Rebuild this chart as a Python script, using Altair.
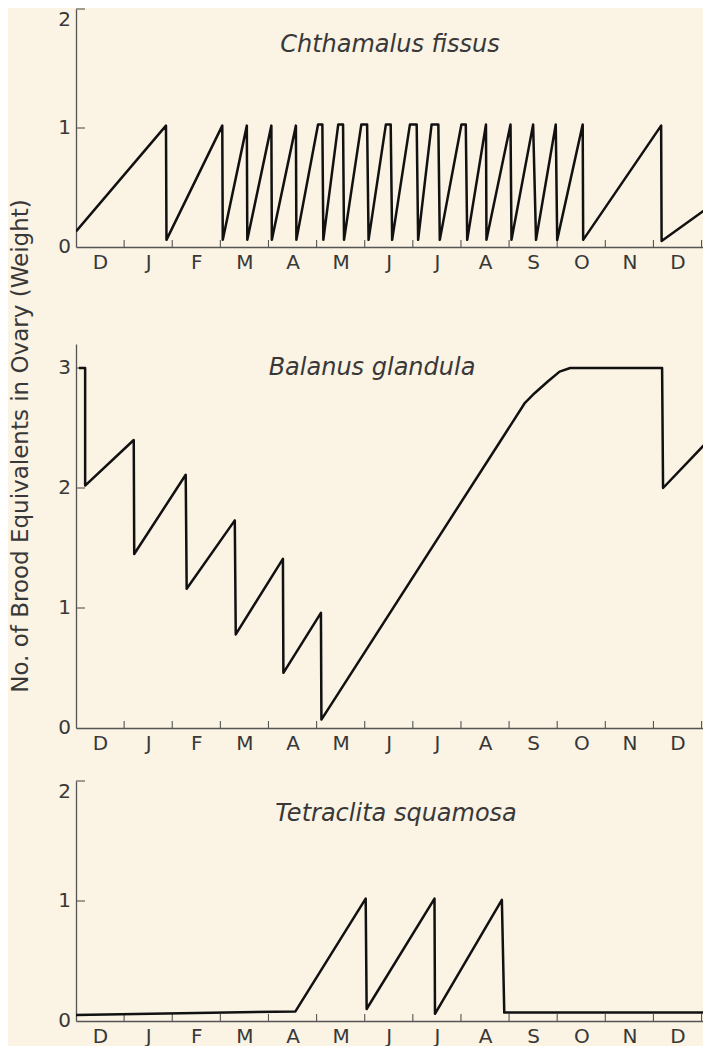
import json
import altair as alt
import pandas as pd

# ---------------- data ----------------
months = ["D", "J", "F", "M", "A", "M", "J", "J", "A", "S", "O", "N", "D"]
species = ["Chthamalus fissus", "Balanus glandula", "Tetraclita squamosa"]
y_title = "No. of Brood Equivalents in Ovary (Weight)"

chth_month = [0.00,
              1.87, 1.88, 3.04, 3.05, 3.55, 3.56, 4.06, 4.07, 4.57, 4.58,
              5.03, 5.12, 5.14, 5.45, 5.55, 5.57, 5.93, 6.05, 6.08,
              6.44, 6.54, 6.57, 6.94, 7.08, 7.11, 7.39, 7.53, 7.56,
              8.01, 8.10, 8.13,
              8.52, 8.53, 9.03, 9.05, 9.50, 9.56, 9.97, 10.00, 10.53, 10.54,
              12.16, 12.17, 13.20]
chth_value = [0.13,
              1.02, 0.06, 1.02, 0.06, 1.02, 0.06, 1.02, 0.06, 1.02, 0.06,
              1.03, 1.03, 0.06, 1.03, 1.03, 0.06, 1.03, 1.03, 0.06,
              1.03, 1.03, 0.06, 1.03, 1.03, 0.06, 1.03, 1.03, 0.06,
              1.03, 1.03, 0.06,
              1.03, 0.06, 1.03, 0.06, 1.03, 0.06, 1.03, 0.06, 1.03, 0.06,
              1.02, 0.05, 0.35]

bal_month = [0.06, 0.19, 0.19, 1.20, 1.21, 2.28, 2.30, 3.30, 3.32, 4.30, 4.31,
             5.09, 5.10, 9.33, 9.53, 9.81, 10.05, 10.27, 12.18, 12.20, 13.20]
bal_value = [3.00, 3.00, 2.02, 2.40, 1.45, 2.11, 1.16, 1.73, 0.78, 1.41, 0.46,
             0.96, 0.07, 2.71, 2.79, 2.89, 2.97, 3.00, 3.00, 2.00, 2.42]

tet_month = [0.00, 4.56, 6.02, 6.04, 7.45, 7.46, 8.85, 8.90, 13.20]
tet_value = [0.05, 0.08, 1.02, 0.10, 1.02, 0.06, 1.01, 0.07, 0.07]

month_ticks = list(range(1, 14))
month_label_pos = [i + 0.5 for i in range(13)]

# ---------------- style ----------------
BG = "#FBF3E3"
INK = "#111111"
AXIS = "#555555"
TXT = "#383838"
FONT = "DejaVu Sans"
W = 627

x_scale = alt.Scale(domain=[0, 13.03], nice=False, zero=False)
label_expr = json.dumps(months) + "[floor(datum.value)]"


def x_axis():
    return alt.Axis(values=month_label_pos, labelExpr=label_expr, ticks=False,
                    grid=False, domainColor=AXIS, domainWidth=1.3,
                    labelFont=FONT, labelFontSize=20, labelColor=TXT,
                    labelPadding=5, labelFlush=False, labelOverlap=False,
                    title=None)


def y_axis(vals):
    return alt.Axis(values=vals, ticks=False, grid=False, domainColor=AXIS,
                    domainWidth=1.3, labels=False, title=None)


def panel(m, v, ymax, h, yvals, top_label, name, name_xy, extra=None):
    ys = alt.Scale(domain=[0, ymax], nice=False, zero=True)
    xa = x_axis()
    ya = y_axis(yvals)
    df = pd.DataFrame({"m": m, "v": v, "i": list(range(len(m)))})
    line = alt.Chart(df).mark_line(color=INK, strokeWidth=2.5,
                                   strokeJoin="round", clip=True).encode(
        x=alt.X("m:Q", scale=x_scale, axis=xa),
        y=alt.Y("v:Q", scale=ys, axis=ya),
        order="i:Q",
    )
    xt = alt.Chart(pd.DataFrame({"m": month_ticks})).mark_rule(
        color=AXIS, strokeWidth=1.1).encode(
        x=alt.X("m:Q", scale=x_scale, axis=xa),
        y=alt.value(h), y2=alt.value(h - 7),
    )
    yt = alt.Chart(pd.DataFrame({"v": [t for t in yvals if t > 0]})).mark_rule(
        color=AXIS, strokeWidth=1.1).encode(
        y=alt.Y("v:Q", scale=ys, axis=ya),
        x=alt.value(0), x2=alt.value(9),
    )
    mid_vals = [t for t in yvals if t != top_label]
    ylab = alt.Chart(pd.DataFrame({"v": mid_vals})).mark_text(
        font=FONT, fontSize=20, color=TXT, align="right",
        baseline="middle").encode(
        y=alt.Y("v:Q", scale=ys, axis=ya), x=alt.value(-5),
        text=alt.Text("v:Q", format="d"))
    layers = [xt, yt, ylab, line]
    if top_label is not None:
        ylab_top = alt.Chart(pd.DataFrame({"v": [top_label]})).mark_text(
            font=FONT, fontSize=20, color=TXT, align="right",
            baseline="top", dy=1).encode(
            y=alt.Y("v:Q", scale=ys, axis=ya), x=alt.value(-5),
            text=alt.Text("v:Q", format="d"))
        layers.append(ylab_top)
    lab = alt.Chart(pd.DataFrame({"name": [name]})).mark_text(
        font=FONT, fontSize=24, fontStyle="italic", color=TXT,
        align="center", baseline="middle").encode(
        x=alt.value(name_xy[0]), y=alt.value(name_xy[1]), text="name:N")
    layers.append(lab)
    if extra is not None:
        layers += extra(h)
    return alt.layer(*layers).properties(width=W, height=h)


def ytitle(h):
    return [alt.Chart(pd.DataFrame({"t": [y_title]})).mark_text(
        font=FONT, fontSize=23, angle=270, color=TXT,
        align="center", baseline="middle").encode(
        x=alt.value(-55), y=alt.value(102), text="t:N")]


top = panel(chth_month, chth_value, 2.0, 238, [0, 1, 2], 2, species[0],
            (314, 36))
mid = panel(bal_month, bal_value, 3.2, 384, [0, 1, 2, 3], None, species[1],
            (296, 24), extra=ytitle)
bot = panel(tet_month, tet_value, 2.0, 240, [0, 1, 2], 2, species[2],
            (320, 33))

inner = alt.vconcat(mid, bot, spacing=53, bounds="flush")
chart = alt.vconcat(top, inner, spacing=97, bounds="flush").properties(
    background=BG,
    padding={"left": 1, "top": 0, "right": 0, "bottom": 0},
).configure_view(stroke=None)

chart.save("out.html", embed_options={"renderer": "svg", "actions": False})
